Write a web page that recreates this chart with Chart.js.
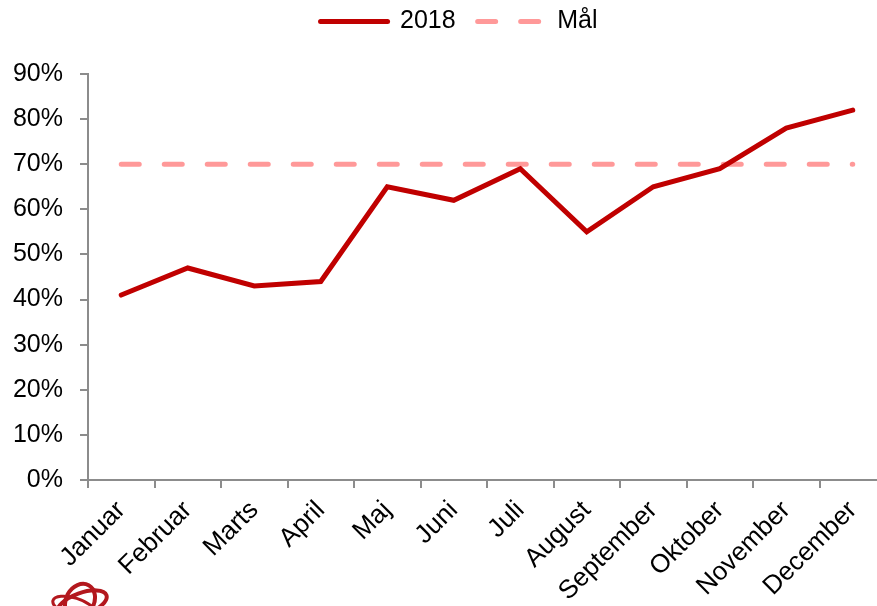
<!DOCTYPE html>
<html><head><meta charset="utf-8">
<script src="https://cdn.jsdelivr.net/npm/chart.js@4/dist/chart.umd.min.js"></script>
<style>
html,body{margin:0;padding:0;background:#fff;overflow:hidden;}
#wrap{width:877px;height:606px;overflow:hidden;position:relative;}
#box{width:900px;height:606px;}
</style></head>
<body><div id="wrap"><div id="box"><canvas id="c" width="900" height="606"></canvas></div></div>
<script>
const categories = ["Januar","Februar","Marts","April","Maj","Juni","Juli","August","September","Oktober","November","December"];
const series2018 = [41,47,43,44,65,62,69,55,65,69,78,82];
const seriesMaal = [70,70,70,70,70,70,70,70,70,70,70,70];
const seriesNames = ["2018","Mål"];
const yTicks = [0,10,20,30,40,50,60,70,80,90];

const FONT = "'Liberation Sans', Arial, sans-serif";
const AXIS = "#8c8c8c";

const legendFit = {
  id: 'legendFit',
  beforeInit(chart){
    const lg = chart.legend;
    const origFit = lg.fit;
    lg.fit = function(){ origFit.call(this); this.height = 74; };
    const origDraw = lg.draw;
    lg.draw = function(){
      const ctx = this.ctx;
      ctx.save(); ctx.translate(16, -13); origDraw.call(this); ctx.restore();
    };
  }
};
const logo = {
  id: 'logo',
  afterDraw(chart){
    const ctx = chart.ctx;
    ctx.save();
    ctx.strokeStyle = '#b3181e';
    ctx.lineWidth = 4;
    ctx.beginPath(); ctx.ellipse(82, 604, 26, 11, -0.35, 0, Math.PI*2); ctx.stroke();
    ctx.beginPath(); ctx.ellipse(80, 601, 14, 18, 0.5, 0, Math.PI*2); ctx.stroke();
    ctx.lineWidth = 3;
    ctx.beginPath(); ctx.ellipse(74, 607, 22, 9, 0.3, 0, Math.PI*2); ctx.stroke();
    ctx.restore();
  }
};

new Chart(document.getElementById('c'), {
  type: 'line',
  data: {
    labels: categories,
    datasets: [
      { label: seriesNames[0], data: series2018, borderColor: '#c00000', backgroundColor: '#c00000',
        borderWidth: 5, pointRadius: 0, borderCapStyle: 'round', borderJoinStyle: 'miter', tension: 0 },
      { label: seriesNames[1], data: seriesMaal, borderColor: '#ff9999', backgroundColor: '#ff9999',
        borderWidth: 5, pointRadius: 0, borderDash: [18, 25], borderCapStyle: 'round', tension: 0 }
    ]
  },
  options: {
    responsive: false,
    animation: false,
    layout: { padding: { left: 0, right: 14, top: 0, bottom: 0 } },
    plugins: {
      tooltip: { enabled: false },
      legend: {
        position: 'top',
        labels: {
          usePointStyle: true, pointStyle: 'line', pointStyleWidth: 67, boxWidth: 67,
          padding: 22, color: '#000', font: { family: FONT, size: 25 },
          generateLabels(chart){
            return chart.data.datasets.map((d, i) => ({
              text: d.label, datasetIndex: i, strokeStyle: d.borderColor, fillStyle: d.borderColor,
              lineWidth: 5, lineCap: 'round', lineDash: i === 1 ? [18, 25] : [], pointStyle: 'line', fontColor: '#000'
            }));
          }
        }
      }
    },
    scales: {
      x: {
        offset: true,
        grid: { offset: true, drawOnChartArea: false, drawTicks: true, tickLength: 8, color: AXIS, lineWidth: 2 },
        border: { color: AXIS, width: 2 },
        ticks: { color: '#000', font: { family: FONT, size: 26 }, minRotation: 45, maxRotation: 45, autoSkip: false, padding: 7 },
        afterFit(s){ s.height = 126; }
      },
      y: {
        min: 0, max: 90,
        grid: { drawOnChartArea: false, drawTicks: true, tickLength: 8, color: AXIS, lineWidth: 2 },
        border: { color: AXIS, width: 2 },
        afterBuildTicks(s){ s.ticks = yTicks.map(v => ({ value: v })); },
        ticks: { color: '#000', font: { family: FONT, size: 25 }, padding: 17, callback: v => v + '%' },
        afterFit(s){ s.width = 88; }
      }
    }
  },
  plugins: [legendFit, logo]
});
</script></body></html>
